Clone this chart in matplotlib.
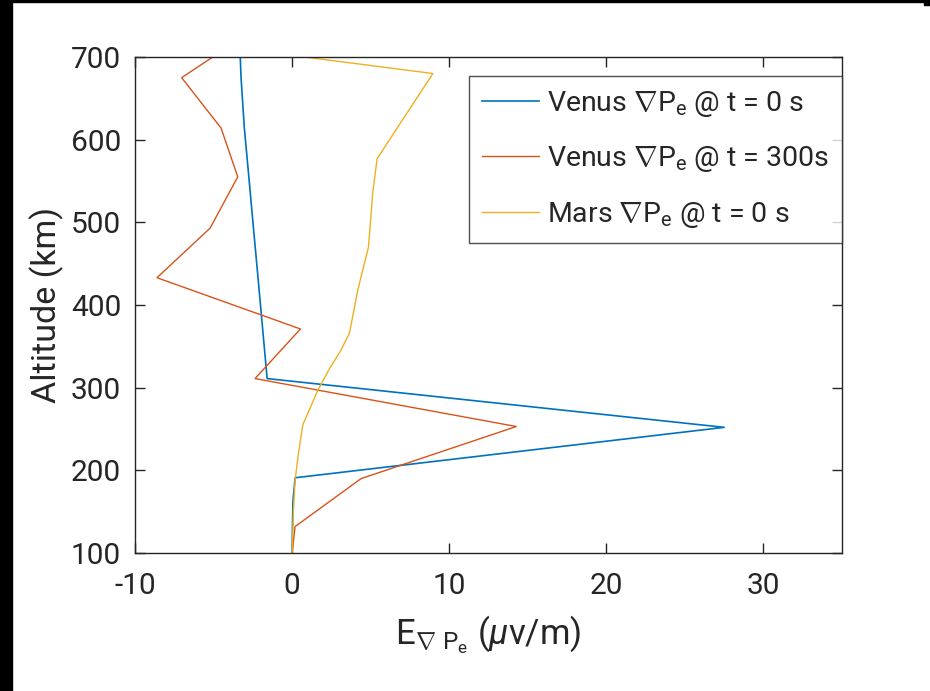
import matplotlib
matplotlib.use("Agg")
import matplotlib.pyplot as plt
from matplotlib.patches import Rectangle

plt.rcParams['font.family'] = ['Roboto', 'DejaVu Sans']
plt.rcParams['mathtext.fontset'] = 'custom'
plt.rcParams['mathtext.rm'] = 'Roboto'
plt.rcParams['mathtext.it'] = 'Roboto:italic'
plt.rcParams['mathtext.sf'] = 'Roboto'
plt.rcParams['axes.unicode_minus'] = False

# Electric field from the electron pressure gradient (microvolt/m) vs altitude (km)
venus0_alt = [100, 131, 150, 162, 191, 252, 311, 372, 433, 493, 554, 614, 675, 700]
venus0_E = [0.0, 0.02, 0.04, 0.05, 0.19, 27.5, -1.59, -1.88, -2.17, -2.46, -2.75, -3.04, -3.25, -3.3]

venus300_alt = [100, 132, 190, 253, 311, 371, 433, 493, 555, 614, 675, 700]
venus300_E = [0.0, 0.19, 4.39, 14.27, -2.36, 0.53, -8.6, -5.22, -3.46, -4.52, -7.03, -5.05]

mars0_alt = [100, 150, 188, 220, 255, 297, 323, 345, 366, 418, 470, 537, 577, 680, 700]
mars0_E = [0.0, 0.08, 0.19, 0.4, 0.68, 1.64, 2.38, 3.1, 3.65, 4.18, 4.86, 5.14, 5.41, 8.96, 0.8]

labels = [r'Venus $\nabla$P$_\mathrm{e}$ @ t = 0 s',
          r'Venus $\nabla$P$_\mathrm{e}$ @ t = 300s',
          r'Mars $\nabla$P$_\mathrm{e}$ @ t = 0 s']
colors = ['#0072BD', '#D95319', '#EDB120']

xticks = [-10, 0, 10, 20, 30]
yticks = [100, 200, 300, 400, 500, 600, 700]

fig = plt.figure(figsize=(9.3, 6.91), dpi=100)
ax = fig.add_axes([135 / 930, 1 - 553 / 691, (842 - 135) / 930, (553 - 57) / 691])

ax.plot(venus0_E, venus0_alt, color=colors[0], lw=1.2, label=labels[0])
ax.plot(venus300_E, venus300_alt, color=colors[1], lw=1.0, label=labels[1])
ax.plot(mars0_E, mars0_alt, color=colors[2], lw=1.0, label=labels[2])

ax.set_xlim(-10, 35)
ax.set_ylim(100, 700)
ax.set_xticks(xticks)
ax.set_yticks(yticks)

axis_color = '#262626'
for s in ax.spines.values():
    s.set_color(axis_color)
    s.set_linewidth(1.0)
ax.tick_params(direction='in', length=7, width=1.0, colors=axis_color,
               top=True, right=True, labelsize=21.5, labelcolor='#262626')
ax.tick_params(axis='x', pad=14)
ax.tick_params(axis='y', pad=10)

ax.set_xlabel(r'E$_{\nabla\ \mathrm{P}_\mathrm{e}}$ ($\mu$v/m)', fontsize=25,
              color='#262626', labelpad=9)
ax.set_ylabel('Altitude (km)', fontsize=24.5, color='#262626', labelpad=5)

leg = ax.legend(loc='upper right', bbox_to_anchor=(1.0, 0.962), fontsize=20.5,
                frameon=True, fancybox=False, edgecolor='#262626',
                handlelength=2.0, handletextpad=0.3, borderpad=0.45,
                labelspacing=0.9, borderaxespad=0.0)
leg.get_frame().set_linewidth(1.0)
for t in leg.get_texts():
    t.set_color('#262626')

# dark edge strips around the canvas
fig.add_artist(Rectangle((0, 0), 12 / 930, 1, transform=fig.transFigure,
                         color='black', zorder=10))
fig.add_artist(Rectangle((0, 1 - 2 / 691), 1, 2 / 691, transform=fig.transFigure,
                         color='black', zorder=10))
fig.add_artist(Rectangle((924 / 930, 1 - 5 / 691), 6 / 930, 5 / 691,
                         transform=fig.transFigure, color='black', zorder=10))

fig.savefig('out.png', dpi=100)
